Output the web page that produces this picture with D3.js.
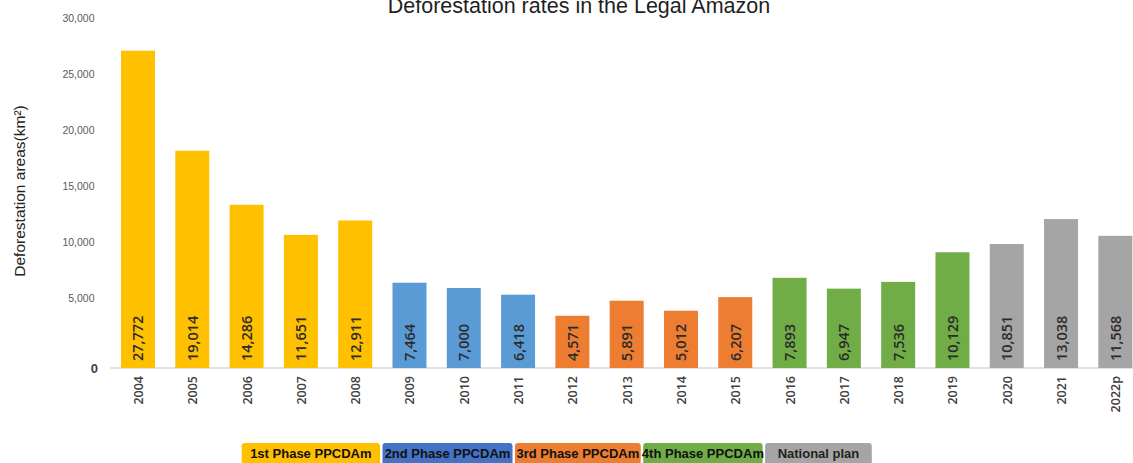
<!DOCTYPE html>
<html>
<head>
<meta charset="utf-8">
<script src="https://cdn.jsdelivr.net/npm/d3@7"></script>
<style>
  html, body { margin: 0; padding: 0; background: #fff; }
  svg { display: block; }
</style>
</head>
<body>
<svg id="chart" width="1133" height="463"></svg>
<script>
// ---- data ----
const years = ["2004","2005","2006","2007","2008","2009","2010","2011","2012","2013","2014","2015","2016","2017","2018","2019","2020","2021","2022p"];
const values = [27772,19014,14286,11651,12911,7464,7000,6418,4571,5891,5012,6207,7893,6947,7536,10129,10851,13038,11568];
const yearPhase = [0,0,0,0,0,1,1,1,2,2,2,2,3,3,3,3,4,4,4];
const phases = ["1st Phase PPCDAm","2nd Phase PPCDAm","3rd Phase PPCDAm","4th Phase PPCDAm","National plan"];
const barColors = ["#FFC000","#5B9BD5","#ED7D31","#70AD47","#A5A5A5"];
const legendColors = ["#FFC000","#4472C4","#ED7D31","#70AD47","#A5A5A5"];
const yTicks = [0,5000,10000,15000,20000,25000,30000];
const titleText = "Deforestation rates in the Legal Amazon";
const yTitle = "Deforestation areas(km\u00B2)";

// ---- layout (not data) ----
const baseY = 368;
const legendStart = 241.7, legendGap = 2.5;
const legendWidths = [138.3,130,125.7,119.4,106.7];

const svg = d3.select("#chart");

const x = d3.scaleBand().domain(years).range([110.85, 1142.5]).paddingInner(0.374).paddingOuter(0.187);
const yBar = d3.scaleLinear().domain([0,30000]).range([baseY, baseY - 342.75]);
const yAxisScale = d3.scaleLinear().domain([0,5000,30000]).range([baseY, 298.5, 18]);

// title
svg.append("text")
  .attr("x", 579).attr("y", 12.7)
  .attr("text-anchor","middle")
  .style("font-family","'Liberation Sans', Arial, sans-serif")
  .style("font-size","21.5px")
  .attr("fill","#1f1f1f")
  .text(titleText);

// y title
svg.append("text")
  .attr("transform","translate(25,191) rotate(-90)")
  .attr("text-anchor","middle")
  .style("font-family","'Liberation Sans', Arial, sans-serif")
  .style("font-size","15.5px")
  .attr("fill","#222")
  .text(yTitle);

// y axis
const yAxisG = svg.append("g").attr("transform","translate(96.5,0)")
  .call(d3.axisLeft(yAxisScale).tickValues(yTicks).tickSize(0).tickPadding(2).tickFormat(d3.format(",")));
yAxisG.select(".domain").remove();
yAxisG.selectAll("text")
  .style("font-family","'Liberation Sans', Arial, sans-serif")
  .style("font-size","10.5px")
  .attr("fill","#595959");
yAxisG.selectAll(".tick").filter(d => d === 0).select("text")
  .attr("x", 1.5)
  .style("font-size","13px").style("font-weight","bold").attr("fill","#404040");

// baseline
svg.append("line")
  .attr("x1",110).attr("x2",1133).attr("y1",baseY).attr("y2",baseY)
  .attr("stroke","#d9d9d9").attr("stroke-width",1.5);

// bars
const data = years.map((yr,i) => ({year: yr, value: values[i], phase: yearPhase[i]}));
svg.append("g").selectAll("rect").data(data).join("rect")
  .attr("x", d => x(d.year))
  .attr("y", d => yBar(d.value))
  .attr("width", x.bandwidth())
  .attr("height", d => yBar(0) - yBar(d.value))
  .attr("fill", d => barColors[d.phase]);

// value labels
svg.append("g").selectAll("text").data(data).join("text")
  .attr("transform", d => `translate(${x(d.year) + x.bandwidth()/2 + 5.5},${baseY - 7}) rotate(-90)`)
  .attr("text-anchor","start")
  .style("font-family","'Open Sans', sans-serif")
  .style("font-size","14.5px")
  .style("font-weight","600")
  .attr("fill","#2b2b2b")
  .text(d => d3.format(",")(d.value));

// year labels
svg.append("g").selectAll("text").data(data).join("text")
  .attr("transform", d => `translate(${x(d.year) + x.bandwidth()/2 + 5},${baseY + 8}) rotate(-90)`)
  .attr("text-anchor","end")
  .style("font-family","'Open Sans', sans-serif")
  .style("font-size","12.5px")
  .style("font-weight","600")
  .attr("fill","#404040")
  .text(d => d.year);

// legend
let lx = legendStart;
const legendPos = legendWidths.map(w => { const p = lx; lx += w + legendGap; return p; });
const lg = svg.append("g");
phases.forEach((p,i) => {
  lg.append("rect")
    .attr("x", legendPos[i]).attr("y", 443)
    .attr("width", legendWidths[i]).attr("height", 30)
    .attr("rx", 3).attr("ry", 3)
    .attr("fill", legendColors[i]);
  lg.append("text")
    .attr("x", legendPos[i] + legendWidths[i]/2).attr("y", 458.3)
    .attr("text-anchor","middle")
    .style("font-family","'Liberation Sans', Arial, sans-serif")
    .style("font-size","13px").style("font-weight","bold")
    .attr("fill", i === 4 ? "#222" : "#111")
    .text(p);
});
</script>
</body>
</html>
